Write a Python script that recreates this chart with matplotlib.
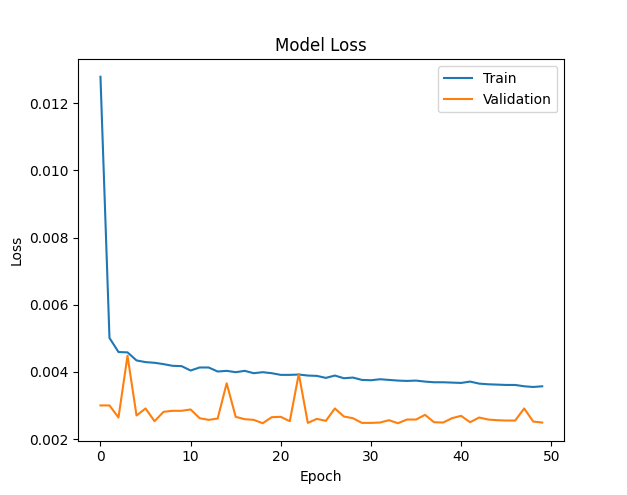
import matplotlib
matplotlib.use("Agg")
import matplotlib.pyplot as plt

epochs = list(range(50))

train_loss = [
    0.01279, 0.00501, 0.00459, 0.00458, 0.00434, 0.00429, 0.00427, 0.00423, 0.00418, 0.00417,
    0.00404, 0.00413, 0.00413, 0.00401, 0.00403, 0.00399, 0.00403, 0.00396, 0.00399, 0.00396,
    0.00391, 0.00391, 0.00392, 0.00389, 0.00388, 0.00382, 0.00389, 0.00381, 0.00383, 0.00376,
    0.00375, 0.00378, 0.00376, 0.00374, 0.00373, 0.00374, 0.00371, 0.00369, 0.00369, 0.00368,
    0.00367, 0.00371, 0.00365, 0.00363, 0.00362, 0.00361, 0.00361, 0.00357, 0.00355, 0.00357,
]

val_loss = [
    0.00300, 0.00300, 0.00264, 0.00448, 0.00270, 0.00291, 0.00253, 0.00281, 0.00284, 0.00284,
    0.00288, 0.00262, 0.00257, 0.00261, 0.00366, 0.00266, 0.00259, 0.00257, 0.00247, 0.00265,
    0.00266, 0.00253, 0.00394, 0.00248, 0.00260, 0.00254, 0.00291, 0.00267, 0.00262, 0.00248,
    0.00248, 0.00249, 0.00256, 0.00247, 0.00258, 0.00258, 0.00272, 0.00250, 0.00249, 0.00262,
    0.00269, 0.00250, 0.00264, 0.00258, 0.00256, 0.00255, 0.00255, 0.00291, 0.00252, 0.00249,
]

fig, ax = plt.subplots(figsize=(6.27, 4.95), dpi=100)
ax.plot(epochs, train_loss, label="Train")
ax.plot(epochs, val_loss, label="Validation")
ax.set_title("Model Loss")
ax.set_xlabel("Epoch")
ax.set_ylabel("Loss")
ax.legend(loc="upper right")
fig.savefig("out.png", dpi=100)
